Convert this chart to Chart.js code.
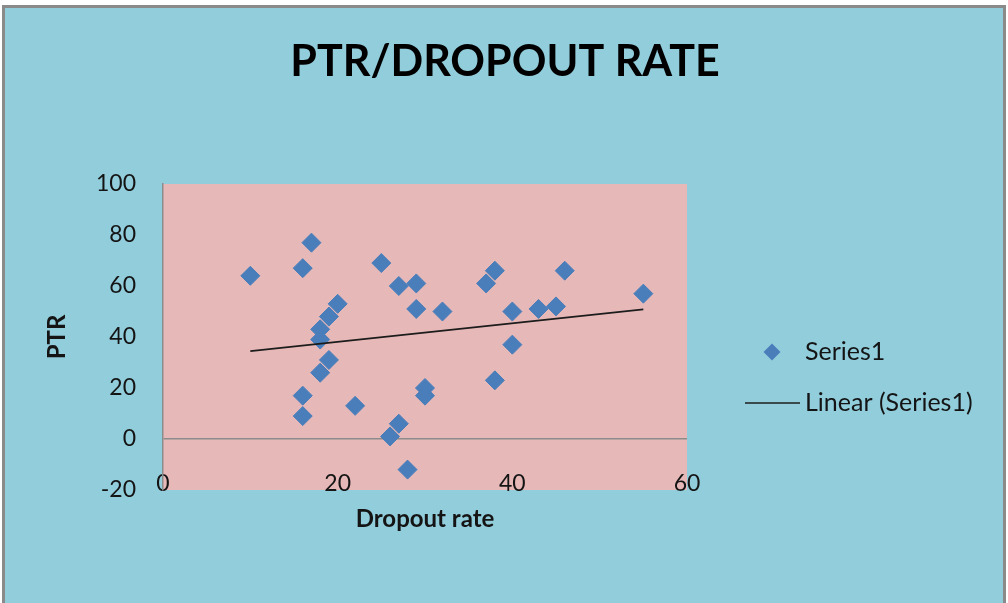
<!DOCTYPE html>
<html>
<head>
<meta charset="utf-8">
<title>PTR/DROPOUT RATE</title>
<script src="https://cdn.jsdelivr.net/npm/chart.js@4/dist/chart.umd.min.js"></script>
<style>
  html, body { margin: 0; padding: 0; background: #ffffff; }
  #wrap { position: relative; width: 1008px; height: 603px; }
</style>
</head>
<body>
<div id="wrap"><canvas id="chart" width="1008" height="603"></canvas></div>
<script>
// Dropout rate (x) and pupil-teacher ratio (y) per observation
const dropoutRate = [10, 16, 16, 16, 17, 18, 18, 18, 19, 19, 20, 22, 25, 26, 27, 27, 28, 29, 29, 30, 30, 32, 37, 38, 38, 40, 40, 43, 45, 46, 55];
const ptr         = [64, 67, 17,  9, 77, 43, 39, 26, 48, 31, 53, 13, 69,  1, 60,  6, -12, 61, 51, 20, 17, 50, 61, 66, 23, 50, 37, 51, 52, 66, 57];

const xTicks = [0, 20, 40, 60];
const yTicks = [-20, 0, 20, 40, 60, 80, 100];

const chartTitle = 'PTR/DROPOUT RATE';
const seriesLabel = 'Series1';
const trendLabel = 'Linear (Series1)';

// Least-squares fit over the observations, drawn between the smallest and largest x
function linearFit(xs, ys) {
  const n = xs.length;
  const mx = xs.reduce((a, b) => a + b, 0) / n;
  const my = ys.reduce((a, b) => a + b, 0) / n;
  let sxy = 0, sxx = 0;
  for (let i = 0; i < n; i++) {
    sxy += (xs[i] - mx) * (ys[i] - my);
    sxx += (xs[i] - mx) * (xs[i] - mx);
  }
  const slope = sxy / sxx;
  const icpt = my - slope * mx;
  const x0 = Math.min(...xs), x1 = Math.max(...xs);
  return [{ x: x0, y: icpt + slope * x0 }, { x: x1, y: icpt + slope * x1 }];
}

const points = dropoutRate.map((x, i) => ({ x, y: ptr[i] }));
const trend = linearFit(dropoutRate, ptr);

const FONT = 'Lato, "Open Sans", sans-serif';
const INK = '#141414';
const MARKER = '#4A7EBB';

// Frame, page fill, plot-area fill and the heading centred over the whole panel
const backdrop = {
  id: 'backdrop',
  beforeDraw(chart) {
    const { ctx, chartArea: a } = chart;
    ctx.save();
    ctx.fillStyle = '#ffffff';
    ctx.fillRect(0, 0, chart.width, chart.height);
    ctx.fillStyle = '#92CDDC';
    ctx.fillRect(2, 5, 1004, 598);
    ctx.strokeStyle = '#8a8a8a';
    ctx.lineWidth = 3;
    ctx.strokeRect(3.5, 6.5, 1001, 600);
    ctx.fillStyle = '#E6B9B8';
    ctx.fillRect(a.left, a.top, a.right - a.left, a.bottom - a.top);
    ctx.fillStyle = '#000000';
    ctx.font = 'bold 43px ' + FONT;
    ctx.textAlign = 'center';
    ctx.textBaseline = 'alphabetic';
    ctx.fillText(chartTitle, 505, 76);
    ctx.restore();
  }
};

// Legend on the right: marker/line sample followed by the dataset label
const sideLegend = {
  id: 'sideLegend',
  afterDraw(chart) {
    const { ctx } = chart;
    const ds = chart.data.datasets;
    const cx = 772, textX = 805;
    const rows = [352, 403];
    ctx.save();
    ctx.font = '25px ' + FONT;
    ctx.textBaseline = 'middle';
    ctx.textAlign = 'left';
    // scatter entry
    const r = 8.5;
    ctx.fillStyle = ds[0].backgroundColor;
    ctx.beginPath();
    ctx.moveTo(cx, rows[0] - r);
    ctx.lineTo(cx + r, rows[0]);
    ctx.lineTo(cx, rows[0] + r);
    ctx.lineTo(cx - r, rows[0]);
    ctx.closePath();
    ctx.fill();
    ctx.fillStyle = INK;
    ctx.fillText(ds[0].label, textX, rows[0]);
    // trendline entry
    ctx.strokeStyle = ds[1].borderColor;
    ctx.lineWidth = 1.5;
    ctx.beginPath();
    ctx.moveTo(745, rows[1]);
    ctx.lineTo(800, rows[1]);
    ctx.stroke();
    ctx.fillText(ds[1].label, textX, rows[1]);
    ctx.restore();
  }
};

new Chart(document.getElementById('chart'), {
  type: 'scatter',
  data: {
    datasets: [
      {
        label: seriesLabel,
        data: points,
        pointStyle: 'rectRot',
        pointRadius: 9.5,
        pointHoverRadius: 9.5,
        backgroundColor: MARKER,
        borderColor: MARKER,
        borderWidth: 1,
        order: 2
      },
      {
        label: trendLabel,
        type: 'line',
        data: trend,
        showLine: true,
        pointRadius: 0,
        borderColor: '#1c1c1c',
        borderWidth: 1.6,
        fill: false,
        order: 1
      }
    ]
  },
  options: {
    responsive: false,
    animation: false,
    events: [],
    layout: { padding: { left: 20, right: 321, top: 184, bottom: 60 } },
    plugins: {
      legend: { display: false },
      tooltip: { enabled: false },
      title: { display: false }
    },
    scales: {
      x: {
        type: 'linear',
        min: 0,
        max: 60,
        afterBuildTicks(scale) { scale.ticks = xTicks.map(v => ({ value: v })); },
        afterFit(scale) { scale.height = 53; },
        grid: { display: false, drawTicks: false },
        border: { display: false },
        ticks: {
          color: INK,
          mirror: true,
          padding: -7,
          maxRotation: 0,
          font: { family: FONT, size: 23 }
        },
        title: {
          display: true,
          text: 'Dropout rate',
          color: INK,
          font: { family: FONT, size: 24, weight: 'bold', lineHeight: 1.2 },
          padding: { top: 0, bottom: 9 }
        }
      },
      y: {
        type: 'linear',
        min: -20,
        max: 100,
        afterBuildTicks(scale) { scale.ticks = yTicks.map(v => ({ value: v })); },
        afterFit(scale) { scale.width = 143; },
        grid: {
          drawTicks: false,
          color: ctx => (ctx.tick && ctx.tick.value === 0) ? '#8c8c8c' : 'rgba(0,0,0,0)',
          lineWidth: 1.5
        },
        border: { display: true, color: '#8c8c8c', width: 1.5 },
        ticks: {
          color: INK,
          padding: 27,
          font: { family: FONT, size: 23 }
        },
        title: {
          display: true,
          text: 'PTR',
          color: INK,
          font: { family: FONT, size: 24, weight: 'bold', lineHeight: 1.2 },
          padding: { top: 23, bottom: 0 }
        }
      }
    }
  },
  plugins: [backdrop, sideLegend]
});
</script>
</body>
</html>
